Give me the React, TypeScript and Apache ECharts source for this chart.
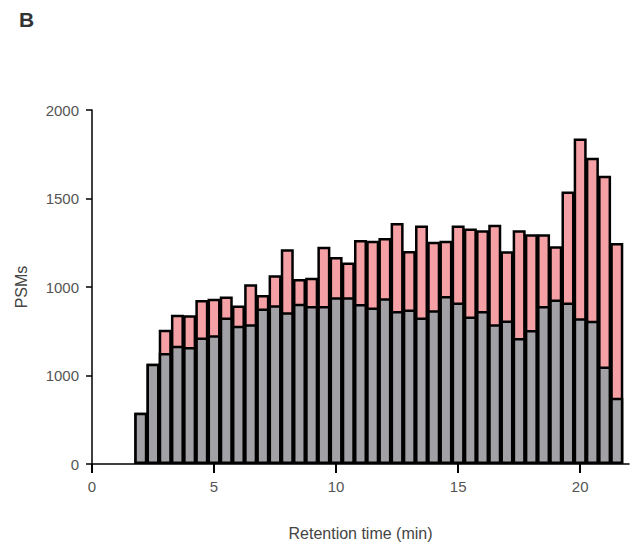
import React, { useEffect, useRef } from "react";
import * as echarts from "echarts";

// Retention-time bins (min), 0.5 min wide
const binCenters = [
  2.0, 2.5, 3.0, 3.5, 4.0, 4.5, 5.0, 5.5, 6.0, 6.5,
  7.0, 7.5, 8.0, 8.5, 9.0, 9.5, 10.0, 10.5, 11.0, 11.5,
  12.0, 12.5, 13.0, 13.5, 14.0, 14.5, 15.0, 15.5, 16.0, 16.5,
  17.0, 17.5, 18.0, 18.5, 19.0, 19.5, 20.0, 20.5, 21.0, 21.5,
];

// PSMs per bin, grey part of each bar
const basePSMs = [
  290, 566, 627, 668, 661, 715, 728, 828, 781, 790,
  878, 897, 858, 906, 893, 893, 942, 942, 904, 884,
  936, 865, 873, 828, 869, 949, 912, 833, 865, 790,
  811, 712, 757, 893, 930, 912, 824, 809, 551, 375,
];

// PSMs per bin, full bar height (grey + pink)
const totalPSMs = [
  290, 566, 758, 843, 840, 927, 933, 946, 895, 1015,
  955, 1067, 1213, 1045, 1052, 1227, 1170, 1139, 1266, 1262,
  1277, 1361, 1204, 1348, 1255, 1262, 1348, 1330, 1320, 1352,
  1202, 1320, 1298, 1298, 1230, 1539, 1839, 1730, 1629, 1249,
];

const yTickLabels = ["0", "1000", "1000", "1500", "2000"];
const xTickLabels = ["0", "5", "10", "15", "20"];

const FONT = "'Liberation Sans', Arial, Helvetica, sans-serif";

export default function App() {
  const ref = useRef<HTMLDivElement>(null);

  useEffect(() => {
    if (!ref.current) return;
    const chart = echarts.init(ref.current, null, { renderer: "svg" });

    const barStyle = (color: string) => ({
      color,
      borderColor: "#000",
      borderWidth: 2.5,
    });

    chart.setOption({
      animation: false,
      backgroundColor: "#fff",
      textStyle: { fontFamily: FONT },
      grid: { left: 92, right: 3, top: 110, bottom: 80, containLabel: false },
      graphic: [
        {
          type: "text",
          left: 19,
          top: 9,
          style: {
            text: "B",
            fontSize: 21,
            fontWeight: "bold",
            fill: "#333",
            fontFamily: FONT,
          },
        },
      ],
      xAxis: {
        type: "value",
        min: 0,
        max: 22,
        interval: 5,
        name: "Retention time (min)",
        nameLocation: "middle",
        nameGap: 61,
        nameTextStyle: { fontSize: 16, color: "#444", fontFamily: FONT },
        axisLine: { show: true, lineStyle: { color: "#000", width: 1.5 } },
        axisTick: { show: true, length: 9, lineStyle: { color: "#000", width: 2 } },
        axisLabel: {
          fontSize: 15,
          color: "#555",
          margin: 15,
          showMaxLabel: false,
          formatter: (v: number) => xTickLabels[Math.round(v / 5)] ?? "",
        },
        splitLine: { show: false },
      },
      yAxis: {
        type: "value",
        min: 0,
        max: 2000,
        interval: 500,
        name: "PSMs",
        nameLocation: "middle",
        nameGap: 63,
        nameTextStyle: { fontSize: 16, color: "#444", fontFamily: FONT },
        axisLine: { show: true, lineStyle: { color: "#000", width: 1.5 } },
        axisTick: { show: true, length: 6, lineStyle: { color: "#000", width: 1.5 } },
        axisLabel: {
          fontSize: 15,
          color: "#555",
          margin: 13,
          formatter: (v: number) => yTickLabels[Math.round(v / 500)] ?? "",
        },
        splitLine: { show: false },
      },
      series: [
        {
          name: "total",
          type: "bar",
          barWidth: 13,
          barGap: "-100%",
          z: 2,
          itemStyle: barStyle("#f5a0a4"),
          data: binCenters.map((x, i) => [x, totalPSMs[i]]),
        },
        {
          name: "base",
          type: "bar",
          barWidth: 13,
          barGap: "-100%",
          z: 3,
          itemStyle: barStyle("#a2a1a6"),
          data: binCenters.map((x, i) => [x, basePSMs[i]]),
        },
      ],
    });

    return () => chart.dispose();
  }, []);

  return (
    <div
      ref={ref}
      style={{ position: "absolute", left: 0, top: 0, width: 632, height: 546 }}
    />
  );
}
